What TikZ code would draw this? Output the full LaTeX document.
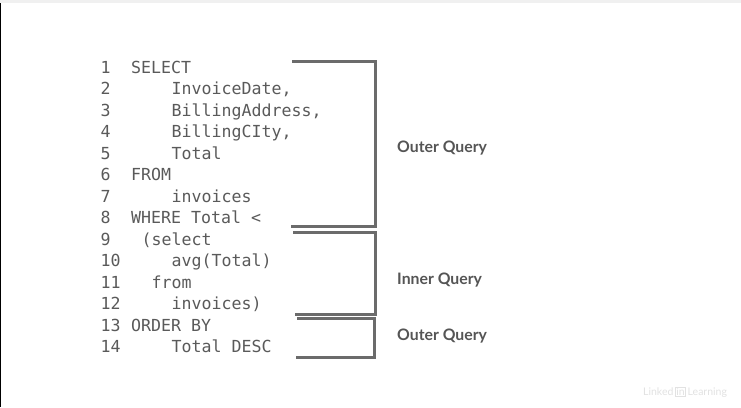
\documentclass[tikz,border=0pt]{standalone}
\usepackage{fontspec}
\newfontfamily\codefont{DejaVu Sans Mono}
\newfontfamily\labelfont{Lato}
\definecolor{codegray}{HTML}{5A5A5A}
\definecolor{brackgray}{HTML}{6B6B6B}
\definecolor{labelgray}{HTML}{555555}
\definecolor{wmgray}{HTML}{E2E2E2}
\begin{document}
\begin{tikzpicture}[x=1pt,y=-1pt,
  codeline/.style={anchor=base west,inner sep=0pt,text=codegray,font=\codefont\fontsize{16.6pt}{20pt}\selectfont},
  bracket/.style={draw=brackgray,line width=3pt,line join=miter},
  qlabel/.style={inner sep=0pt,text=labelgray,font=\labelfont\bfseries\fontsize{15.8pt}{18pt}\selectfont}]
\useasboundingbox[fill=white] (0,0) rectangle (741,407);
\fill[black!6] (0,0) rectangle (741,2.5);
\draw[black,line width=1.2pt] (0.6,3) -- (0.6,407);
% line numbers
\foreach \k in {1,...,14}{
  \pgfmathsetmacro{\yy}{73+(\k-1)*21.5}
  \node[codeline] (n\k) at (100.5,\yy) {\k};
}
% code
\node[codeline] (c1) at (131,73) {SELECT};
\node[codeline] (c2) at (171.5,94.5) {InvoiceDate,};
\node[codeline] (c3) at (171.5,116) {BillingAddress,};
\node[codeline] (c4) at (171.5,137.5) {BillingCIty,};
\node[codeline] (c5) at (171.5,159) {Total};
\node[codeline] (c6) at (131,180.5) {FROM};
\node[codeline] (c7) at (171.5,202) {invoices};
\node[codeline] (c8) at (131,223.5) {WHERE Total <};
\node[codeline] (c9) at (141.5,245) {(select};
\node[codeline] (c10) at (171.5,266.5) {avg(Total)};
\node[codeline] (c11) at (151.5,288) {from};
\node[codeline] (c12) at (171.5,309.5) {invoices)};
\node[codeline] (c13) at (131,331) {ORDER BY};
\node[codeline] (c14) at (171.5,352.5) {Total DESC};
% brackets
\coordinate (b1a) at (292,61);  \coordinate (b1b) at (375,61);
\coordinate (b1c) at (375,226); \coordinate (b1d) at (291,226);
\coordinate (b2a) at (293,232); \coordinate (b2b) at (375,232);
\coordinate (b2c) at (375,314); \coordinate (b2d) at (295,314);
\coordinate (b3a) at (297,318); \coordinate (b3b) at (374,318);
\coordinate (b3c) at (374,357); \coordinate (b3d) at (296,357);
\draw[bracket] (b1a) -- (b1b) -- (b1c) -- (b1d);
\draw[bracket] (b2a) -- (b2b) -- (b2c) -- (b2d);
\draw[bracket] (b3a) -- (b3b) -- (b3c) -- (b3d);
% labels
\node[qlabel,anchor=west] (l1) at (397,148.5) {Outer Query};
\node[qlabel,anchor=west] (l2) at (397,280.5) {Inner Query};
\node[qlabel,anchor=west] (l3) at (397,336.5) {Outer Query};
% watermark
\node[anchor=west,inner sep=0pt,text=wmgray,font=\labelfont\fontsize{10.5pt}{12pt}\selectfont] (wm) at (643,392)
  {Linked\,\tikz[baseline=(i.base)]\node[draw=wmgray,inner sep=0.8pt,line width=0.8pt] (i) {in};\,Learning};
\end{tikzpicture}
\end{document}
